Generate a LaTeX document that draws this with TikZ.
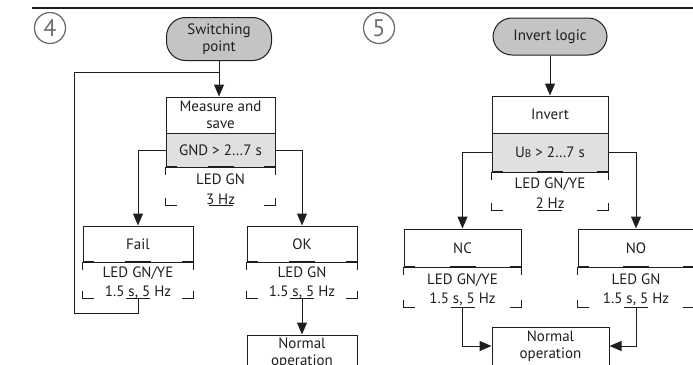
\documentclass[tikz,border=0pt]{standalone}
\usepackage{fontspec}
\setmainfont{PT Sans}
\usetikzlibrary{arrows.meta}
\definecolor{ink}{HTML}{1E1E1E}
\definecolor{startfill}{HTML}{C4C4C4}
\definecolor{condfill}{HTML}{E0E0E0}
\definecolor{circgray}{HTML}{6E6E6E}
\newcommand\ledframe[1]{%
  \draw[ledseg] (#1.north west) ++(0,8) -- (#1.north west);
  \draw[ledseg] (#1.north east) ++(0,8) -- (#1.north east);
  \draw[ledseg] (#1.south west) ++(0,-7) -- (#1.south west) -- ++(11,0);
  \draw[ledseg] (#1.south east) ++(0,-7) -- (#1.south east) -- ++(-11,0);
  \draw[ledseg] (#1.south) ++(-12,0) -- ++(24,0);
  \draw[ledtop] (#1.north west) -- ++(11,0);
  \draw[ledtop] (#1.north east) -- ++(-11,0);
  \draw[ledtop] (#1.north) ++(-13,0) -- ++(26,0);
}
\begin{document}
\begin{tikzpicture}[x=1pt,y=-1pt,
  txt/.style={font=\fontsize{15}{17}\selectfont, text=ink, align=center, inner sep=0pt},
  box/.style={txt, draw=ink, line width=1pt},
  startbox/.style={box, fill=startfill, rounded corners=19pt},
  condbox/.style={box, fill=condfill},
  ledbox/.style={inner sep=0pt},
  ledtxt/.style={txt, font=\fontsize{15}{19.5}\selectfont},
  ledseg/.style={draw=ink, line width=1pt},
  ledtop/.style={draw=ink, line width=2.2pt},
  conn/.style={draw=ink, line width=1pt},
  arr/.style={conn, -{Triangle[length=12pt,width=10pt]}},
  digit/.style={circle, draw=circgray, line width=1.3pt, minimum size=31pt, inner sep=0pt, text=circgray, font=\fontsize{24}{24}\selectfont}
]
\useasboundingbox (0,0) rectangle (693,364);
\begin{scope}
\clip (0,0) rectangle (693,364);
% top rule
\coordinate (ruleL) at (32,8);
\coordinate (ruleR) at (693,8);
\draw[ink, line width=1.8pt] (ruleL) -- (ruleR);

% ---------------- diagram 4 ----------------
\node[digit] (c4) at (50,28) {4};
\node[startbox, minimum width=105pt, minimum height=43pt] (sp) at (219,39) {Switching\\point};
\node[box, minimum width=109pt, minimum height=36pt] (meas) at (220.5,115) {Measure and\\save};
\node[condbox, minimum width=109pt, minimum height=34pt] (gnd) at (220.5,150) {GND > 2…7 s};
\node[ledbox, minimum width=109pt, minimum height=38pt] (ledA) at (220.5,186) {};
\node[ledtxt] (ledAt) at ([yshift=-3pt]ledA.center) {LED GN\\3 Hz};
\node[box, minimum width=110pt, minimum height=36pt] (fail) at (138,244) {Fail};
\node[ledbox, minimum width=110pt, minimum height=36pt] (ledF) at (138,280) {};
\node[ledtxt] (ledFt) at ([yshift=-3pt]ledF.center) {LED GN/YE\\1.5 s, 5 Hz};
\node[box, minimum width=110pt, minimum height=36pt] (ok) at (302,244) {OK};
\node[ledbox, minimum width=110pt, minimum height=36pt] (ledO) at (302,280) {};
\node[ledtxt] (ledOt) at ([yshift=-3pt]ledO.center) {LED GN\\1.5 s, 5 Hz};
\node[box, minimum width=110pt, minimum height=36pt] (norm4) at (302,353) {Normal\\operation};
\ledframe{ledA}
\ledframe{ledF}
\ledframe{ledO}

\coordinate (j4) at (219,72);
\coordinate (loop4) at (74,313);
\draw[arr] (sp.south) -- (sp.south |- meas.north);
\draw[conn] (ledF.south) |- (loop4) |- (j4);
\draw[arr] (gnd.west) -| (fail.north);
\draw[arr] (gnd.east) -| (ok.north);
\draw[arr] (ledO.south) -- (norm4.north);

% ---------------- diagram 5 ----------------
\node[digit] (c5) at (379,28) {5};
\node[startbox, minimum width=114pt, minimum height=37pt] (il) at (550,36.5) {Invert logic};
\node[box, minimum width=116pt, minimum height=37pt] (inv) at (550,114.5) {Invert};
\node[condbox, minimum width=116pt, minimum height=39pt] (ub) at (550,152.5) {U{\fontsize{11}{11}\selectfont B} > 2…7 s};
\node[ledbox, minimum width=116pt, minimum height=38pt] (ledI) at (550,191) {};
\node[ledtxt] (ledIt) at ([yshift=-2pt]ledI.center) {LED GN/YE\\2 Hz};
\node[box, minimum width=117pt, minimum height=38pt] (nc) at (462.5,248) {NC};
\node[ledbox, minimum width=117pt, minimum height=40pt] (ledNC) at (462.5,287) {};
\node[ledtxt] (ledNCt) at ([yshift=-3pt]ledNC.center) {LED GN/YE\\1.5 s, 5 Hz};
\node[box, minimum width=116pt, minimum height=38pt] (no) at (636,248) {NO};
\node[ledbox, minimum width=116pt, minimum height=40pt] (ledNO) at (636,287) {};
\node[ledtxt] (ledNOt) at ([yshift=-3pt]ledNO.center) {LED GN\\1.5 s, 5 Hz};
\node[box, minimum width=117pt, minimum height=38pt] (norm5) at (550.5,346) {Normal\\operation};
\ledframe{ledI}
\ledframe{ledNC}
\ledframe{ledNO}

\draw[arr] (il.south) -- (il.south |- inv.north);
\draw[arr] (ub.west) -| (nc.north);
\draw[arr] (ub.east) -| (no.north);
\draw[arr] (ledNC.south) |- (norm5.west);
\draw[arr] (ledNO.south) |- (norm5.east);
\end{scope}
\end{tikzpicture}
\end{document}
